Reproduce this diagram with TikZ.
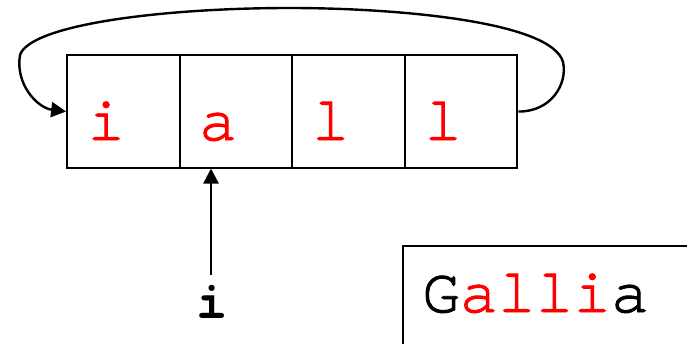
\documentclass[tikz,border=0pt]{standalone}
\usepackage{fontspec}
\setmonofont{TeX Gyre Cursor}
\newfontfamily\courfont[FakeBold=1.5]{TeX Gyre Cursor}
\usetikzlibrary{arrows.meta}
\tikzset{
  cellbox/.style={draw, line width=2.2pt, minimum width=112.5pt, minimum height=113pt, inner sep=0pt},
  letter/.style={font=\courfont\fontsize{63}{63}\selectfont, text=red, inner sep=0pt, anchor=base west},
  conn/.style={line width=2.4pt, -{Triangle[length=15pt,width=15pt]}},
}
\begin{document}
\begin{tikzpicture}[x=1pt,y=-1pt]
\useasboundingbox (0,0) rectangle (687,343);
\node[cellbox] (c1) at (123.5,111.5) {};
\node[cellbox] (c2) at (236,111.5) {};
\node[cellbox] (c3) at (348.5,111.5) {};
\node[cellbox] (c4) at (461,111.5) {};
\node[letter] (t1) at (87,140) {i};
\node[letter] (t2) at (199,140) {a};
\node[letter] (t3) at (311.5,140) {l};
\node[letter] (t4) at (424,140) {l};
\coordinate (cout) at (c4.east);
\coordinate (cin) at (c1.west);
\draw[conn] (cout) .. controls (550,112) and (568,85) .. (563,62)
  .. controls (552,22) and (400,8) .. (290,8)
  .. controls (160,8) and (30,25) .. (20,55)
  .. controls (15,85) and (38,108) .. (cin);
\node[font=\ttfamily\bfseries\fontsize{52}{52}\selectfont, inner sep=0pt, anchor=base] (lab) at (212,318) {i};
\coordinate (arrstart) at (211,275);
\draw[conn] (arrstart) -- (211,168.5) coordinate (arrend);
\draw[line width=2.2pt] (687,246) -- (403,246) -- (403,345);
\node[font=\courfont\fontsize{63}{63}\selectfont, inner sep=0pt, anchor=base west] (word) at (422,312) {G\textcolor{red}{alli}a};
\end{tikzpicture}
\end{document}
